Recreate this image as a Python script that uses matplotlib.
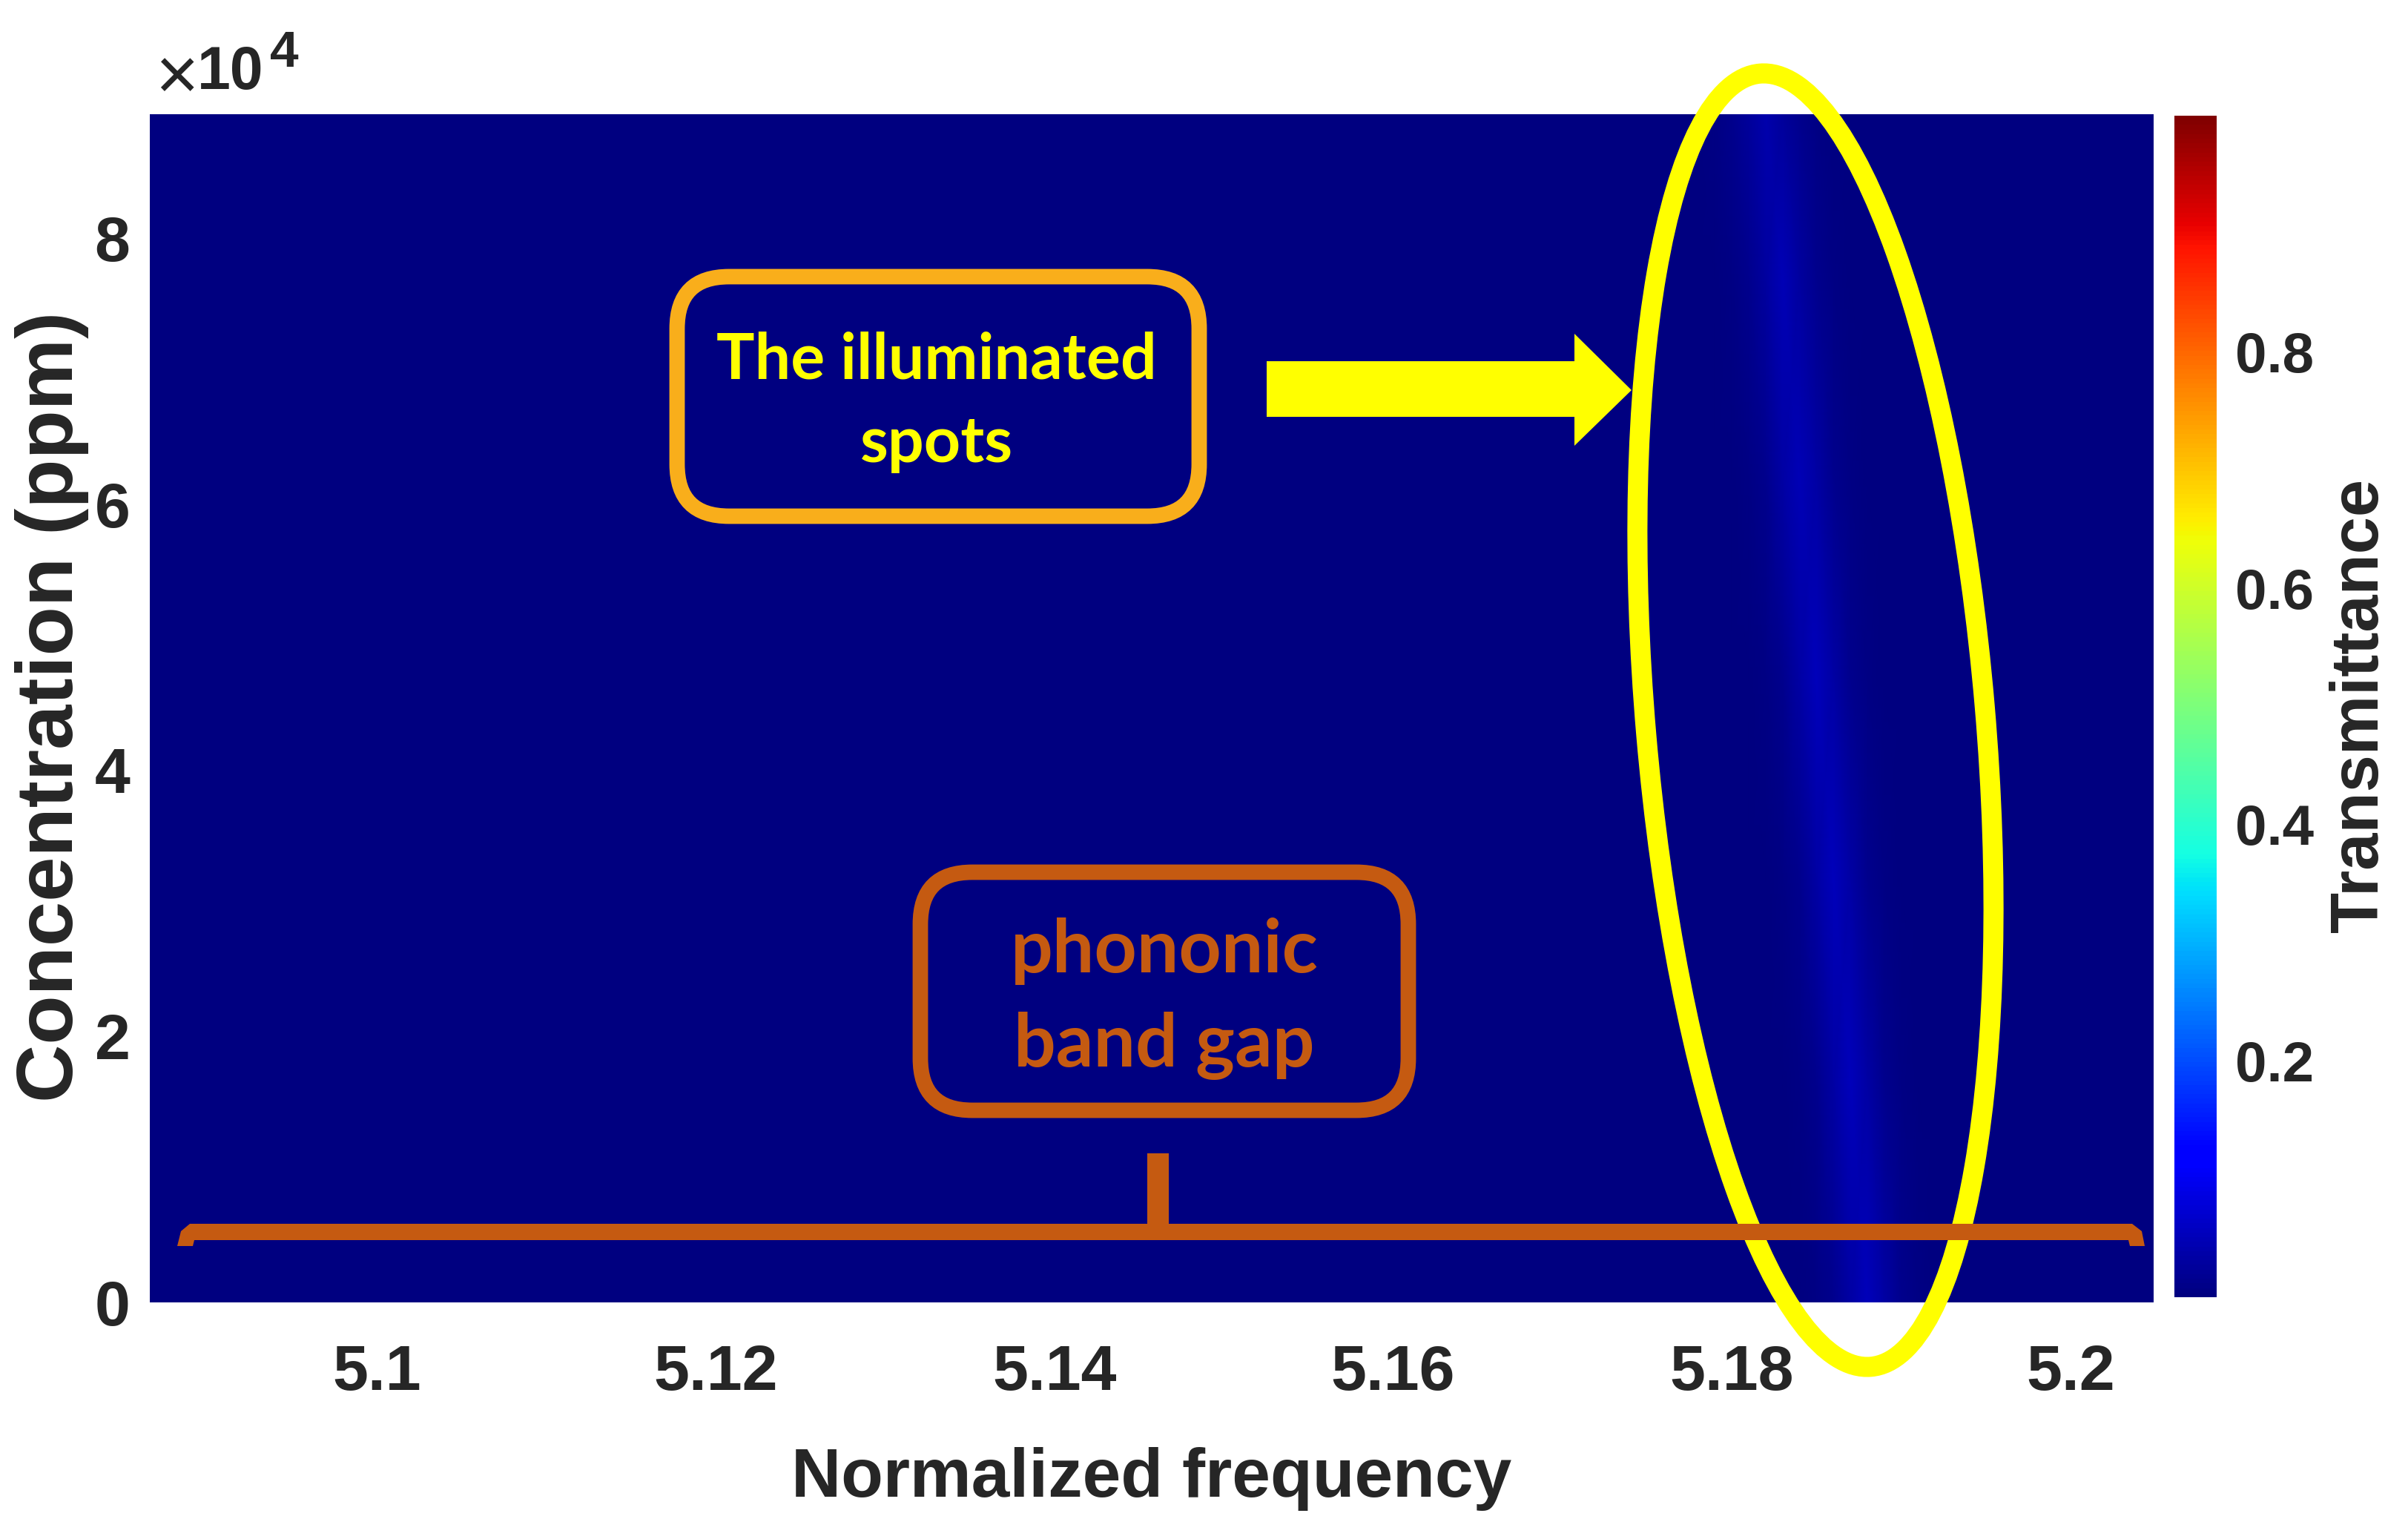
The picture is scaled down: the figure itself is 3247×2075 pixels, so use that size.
import numpy as np
import matplotlib
matplotlib.use('Agg')
import matplotlib.pyplot as plt
from matplotlib.patches import Ellipse, FancyBboxPatch, Polygon, Rectangle

W, H = 3248, 2075

# ─── Data ─────────────────────────────────────────────────────────────────────
frequency = [5.0866, 5.178, 5.179, 5.180, 5.181, 5.182, 5.183, 5.184, 5.185,
             5.186, 5.187, 5.188, 5.189, 5.190, 5.191, 5.192, 5.193, 5.2049]
concentration = [0, 16600, 32000, 47000, 62000, 77000, 89300]
transmittance = [
    [0, 0, 0, 0, 0, 0, 0, .003, .006, .014, .032, .052, .032, .014, .006, .003, 0, 0],
    [0, 0, 0, 0, 0, 0, .003, .006, .014, .032, .052, .032, .014, .006, .003, 0, 0, 0],
    [0, 0, 0, 0, 0, .003, .006, .014, .032, .052, .032, .014, .006, .003, 0, 0, 0, 0],
    [0, 0, 0, 0, .003, .006, .014, .032, .052, .032, .014, .006, .003, 0, 0, 0, 0, 0],
    [0, 0, 0, .003, .006, .014, .032, .050, .032, .014, .006, .003, 0, 0, 0, 0, 0, 0],
    [0, 0, .003, .006, .014, .030, .048, .030, .014, .006, .003, 0, 0, 0, 0, 0, 0, 0],
    [0, .002, .005, .012, .026, .040, .026, .012, .005, .002, 0, 0, 0, 0, 0, 0, 0, 0],
]
x_ticks = [5.1, 5.12, 5.14, 5.16, 5.18, 5.2]
x_tick_labels = ['5.1', '5.12', '5.14', '5.16', '5.18', '5.2']
y_ticks = [0, 20000, 40000, 60000, 80000]
y_tick_labels = ['0', '2', '4', '6', '8']
cbar_ticks = [0.2, 0.4, 0.6, 0.8]

INK = '#262626'
YELLOW = '#FFFF00'
GOLD = '#F9AE1B'
BROWN = '#C55A11'
SANS = 'Liberation Sans'

fig = plt.figure(figsize=(W / 100, H / 100), dpi=100, facecolor='white')


def box(x0, y0, x1, y1):
    return [x0 / W, 1 - y1 / H, (x1 - x0) / W, (y1 - y0) / H]


# ─── Heatmap ──────────────────────────────────────────────────────────────────
ax = fig.add_axes(box(202, 154, 2904, 1756))
mesh = ax.pcolormesh(frequency, concentration, transmittance, cmap='jet',
                     vmin=0, vmax=1, shading='gouraud')
ax.set_xlim(frequency[0], frequency[-1])
ax.set_ylim(concentration[0], concentration[-1])
ax.set_xticks(x_ticks, x_tick_labels, fontsize=62, fontweight='bold',
              fontfamily=SANS, color=INK)
ax.set_yticks(y_ticks, y_tick_labels, fontsize=62, fontweight='bold',
              fontfamily=SANS, color=INK)
ax.tick_params(axis='x', length=0, pad=40)
ax.tick_params(axis='y', length=0, pad=19)
for spine in ax.spines.values():
    spine.set_visible(False)

# ─── Colorbar ─────────────────────────────────────────────────────────────────
cax = fig.add_axes(box(2932, 156, 2989, 1749))
cbar = fig.colorbar(mesh, cax=cax, ticks=cbar_ticks)
cbar.outline.set_visible(False)
cax.tick_params(length=0, pad=18)
for lab in cax.get_yticklabels():
    lab.set(fontsize=55, fontweight='bold', fontfamily=SANS, color=INK)

# ─── Overlay in pixel coordinates for labels and call-outs ────────────────────
ov = fig.add_axes([0, 0, 1, 1], facecolor='none')
ov.set_xlim(0, W)
ov.set_ylim(H, 0)
ov.axis('off')

ov.text(1553, 1994, 'Normalized frequency', fontsize=67, fontweight='bold',
        fontfamily=SANS, color=INK, ha='center', va='center')
ov.text(70, 953, 'Concentration (ppm)', fontsize=78, fontweight='bold',
        fontfamily=SANS, color=INK, ha='center', va='center', rotation=90)
ov.text(3183, 951, 'Transmittance', fontsize=65, fontweight='bold',
        fontfamily=SANS, color=INK, ha='center', va='center', rotation=90)
ov.text(238, 108, '×', fontsize=72, fontfamily=SANS, color=INK, ha='center', va='center')
ov.text(311, 99, '10', fontsize=58, fontweight='bold', fontfamily=SANS, color=INK,
        ha='center', va='center')
ov.text(383, 72, '4', fontsize=50, fontweight='bold', fontfamily=SANS, color=INK,
        ha='center', va='center')

# illuminated spots ellipse and arrow
ov.add_patch(Ellipse((2448, 971), 458, 1750, angle=-4.9, fill=False,
                     edgecolor=YELLOW, linewidth=19.5, zorder=3))
ov.add_patch(Polygon([(1708, 487), (2123, 487), (2123, 450), (2200, 526),
                      (2123, 601), (2123, 562), (1708, 562)],
                     closed=True, facecolor=YELLOW, edgecolor='none', zorder=3))

# call-out boxes
ov.add_patch(FancyBboxPatch((913, 373), 704, 323, boxstyle='round,pad=0,rounding_size=70',
                            fill=False, edgecolor=GOLD, linewidth=15, zorder=3))
ov.text(1263, 486, 'The illuminated', fontsize=62, fontweight='bold', fontfamily='Lato',
        color=YELLOW, ha='center', va='center', zorder=4)
ov.text(1263, 598, 'spots', fontsize=62, fontweight='bold', fontfamily='Lato',
        color=YELLOW, ha='center', va='center', zorder=4)
ov.add_patch(FancyBboxPatch((1241, 1176), 658, 321, boxstyle='round,pad=0,rounding_size=70',
                            fill=False, edgecolor=BROWN, linewidth=15, zorder=3))
ov.text(1570, 1282, 'phononic', fontsize=72, fontweight='bold', fontfamily='Lato',
        color=BROWN, ha='center', va='center', zorder=4)
ov.text(1570, 1410, 'band gap', fontsize=72, fontweight='bold', fontfamily='Lato',
        color=BROWN, ha='center', va='center', zorder=4)

# phononic band gap bracket
ov.add_patch(Polygon([(239, 1680), (244, 1660), (256, 1650), (2875, 1650), (2888, 1660),
                      (2892, 1680), (2872, 1680), (2870, 1672), (262, 1672), (260, 1680)],
                     closed=True, facecolor=BROWN, edgecolor='none', zorder=5))
ov.add_patch(Rectangle((1547, 1555), 29, 102, facecolor=BROWN, edgecolor='none', zorder=5))

fig.savefig('out.png', dpi=100)
